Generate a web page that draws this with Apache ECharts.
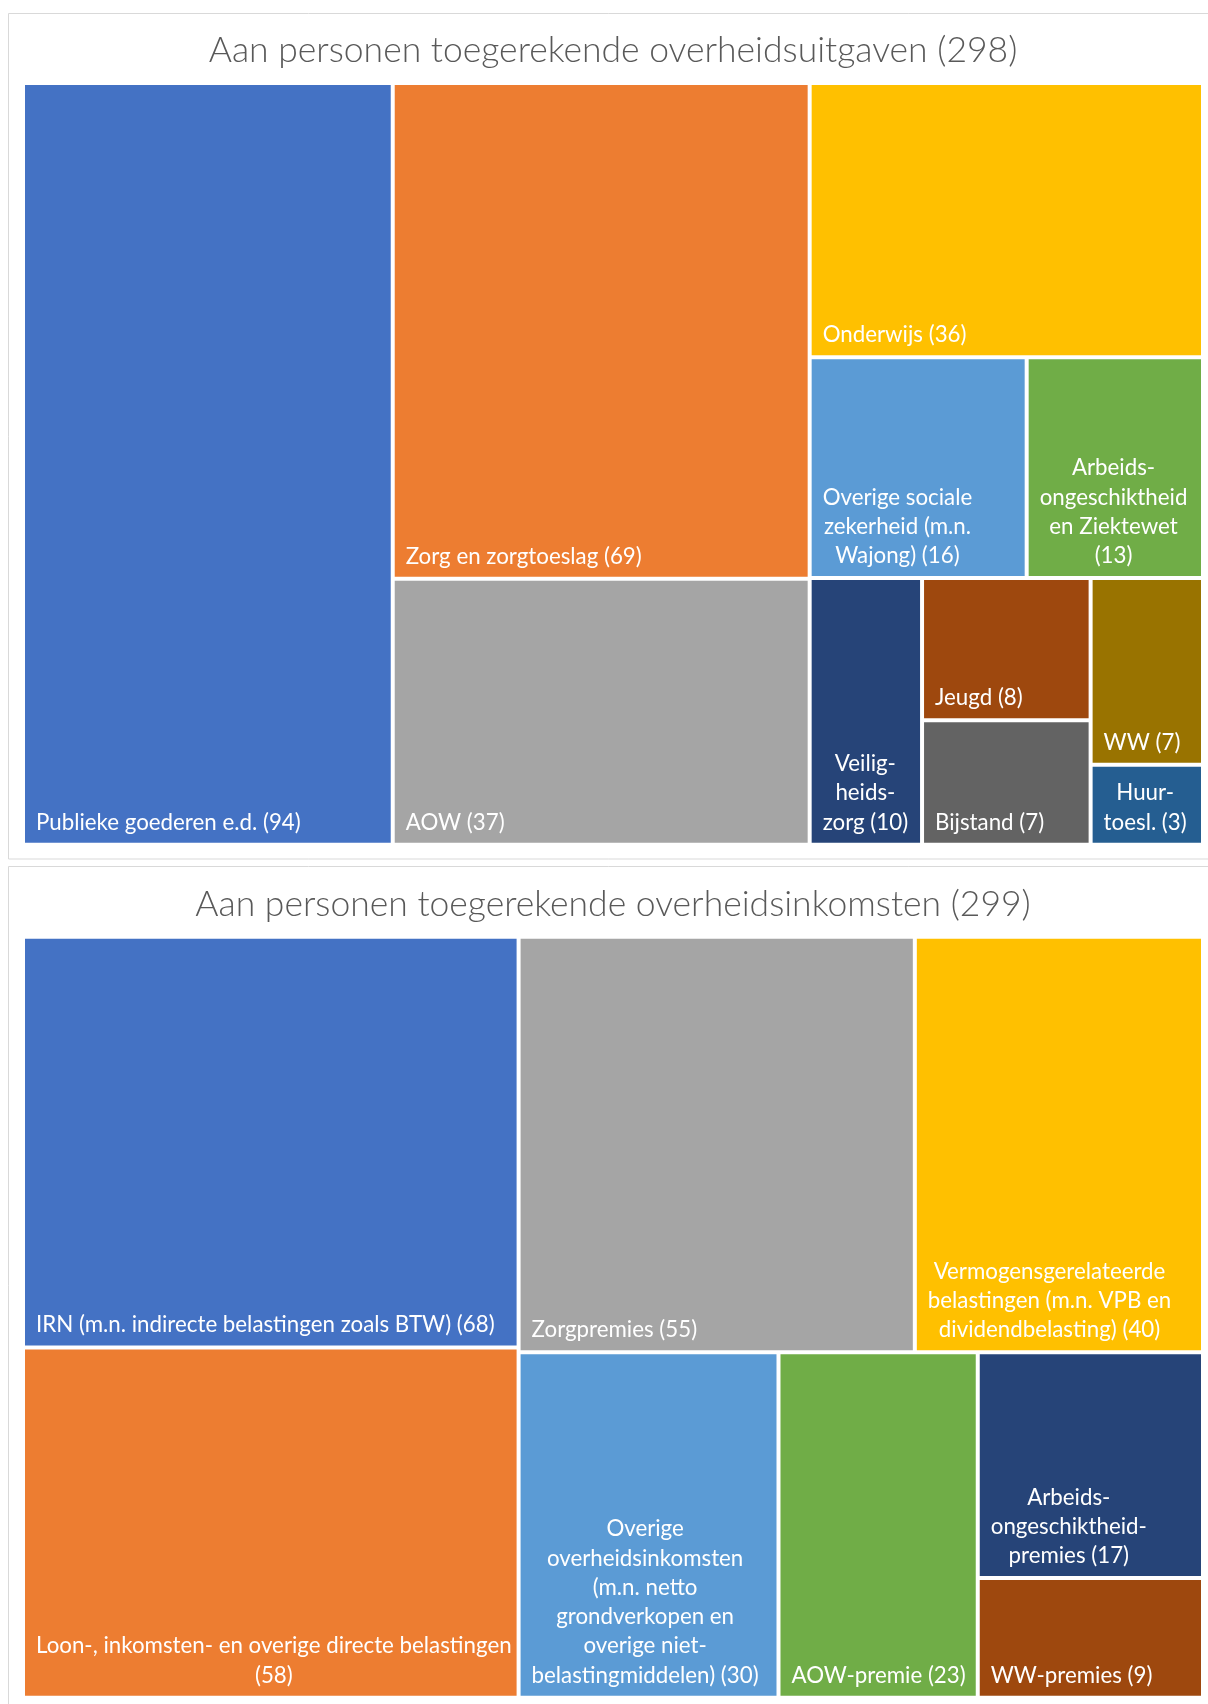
<!DOCTYPE html>
<html lang="nl">
<head>
<meta charset="utf-8">
<title>Aan personen toegerekende overheidsuitgaven en -inkomsten</title>
<script src="https://cdn.jsdelivr.net/npm/echarts@6/dist/echarts.min.js"></script>
<style>
  html, body { margin: 0; padding: 0; background: #ffffff; }
  #chart { width: 1208px; height: 1704px; }
</style>
</head>
<body>
<div id="chart"></div>
<script>
// ---- Uitgaven (mld euro) ----
const spendTitle = 'Aan personen toegerekende overheidsuitgaven';
const spendTotal = 298;
const spendNames = [
  'Publieke goederen e.d.', 'Zorg en zorgtoeslag', 'AOW', 'Onderwijs',
  'Overige sociale zekerheid (m.n. Wajong)', 'Arbeidsongeschiktheid en Ziektewet',
  'Veiligheidszorg', 'Jeugd', 'Bijstand', 'WW', 'Huurtoeslag'
];
const spendLabels = [
  'Publieke goederen e.d. ({c})',
  'Zorg en zorgtoeslag ({c})',
  'AOW ({c})',
  'Onderwijs ({c})',
  'Overige sociale\nzekerheid (m.n.\nWajong) ({c})',
  'Arbeids-\nongeschiktheid\nen Ziektewet\n({c})',
  'Veilig-\nheids-\nzorg ({c})',
  'Jeugd ({c})',
  'Bijstand ({c})',
  'WW ({c})',
  'Huur-\ntoesl. ({c})'
];
const spendValues = [94, 69, 37, 36, 16, 13, 10, 8, 7, 7, 3];
const spendColors = ['#4472C4', '#ED7D31', '#A5A5A5', '#FFC000', '#5B9BD5', '#70AD47',
                     '#264478', '#9E480E', '#636363', '#997300', '#255E91'];
// how the tiles are grouped (indices into the arrays above)
const spendBlocks = [0, [1, 2], [3, [4, 5], [6, [7, 8], [9, 10]]]];

// ---- Inkomsten (mld euro) ----
const incomeTitle = 'Aan personen toegerekende overheidsinkomsten';
const incomeTotal = 299;
const incomeNames = [
  'IRN (m.n. indirecte belastingen zoals BTW)', 'Loon-, inkomsten- en overige directe belastingen',
  'Zorgpremies', 'Vermogensgerelateerde belastingen (m.n. VPB en dividendbelasting)',
  'Overige overheidsinkomsten', 'AOW-premie', 'Arbeidsongeschiktheidpremies', 'WW-premies'
];
const incomeLabels = [
  'IRN (m.n. indirecte belastingen zoals BTW) ({c})',
  'Loon-, inkomsten- en overige directe belastingen\n({c})',
  'Zorgpremies ({c})',
  'Vermogensgerelateerde\nbelastingen (m.n. VPB en\ndividendbelasting) ({c})',
  'Overige\noverheidsinkomsten\n(m.n. netto\ngrondverkopen en\noverige niet-\nbelastingmiddelen) ({c})',
  'AOW-premie ({c})',
  'Arbeids-\nongeschiktheid-\npremies ({c})',
  'WW-premies ({c})'
];
const incomeValues = [68, 58, 55, 40, 30, 23, 17, 9];
const incomeColors = ['#4472C4', '#ED7D31', '#A5A5A5', '#FFC000', '#5B9BD5', '#70AD47', '#264478', '#9E480E'];
const incomeBlocks = [[0, 1], [[2, 3], [4, 5, [6, 7]]]];

// ---- text styling ----
const LABEL_FONT = 'Lato';
const LABEL_SIZE = 22.3;
const LABEL_LINE = 29.3;
const LABEL_PAD_X = 11;
const LABEL_PAD_Y = -5.5;
const TITLE_FONT = 'Lato';
const TITLE_SIZE = 35.5;

// Multi-line labels sit at the lower left of a tile with their lines centred
// on each other, so each label is anchored at the middle of its widest line.
const measureCtx = document.createElement('canvas').getContext('2d');
measureCtx.font = `normal normal ${LABEL_SIZE}px ${LABEL_FONT}`;
function widestLine(text) {
  return Math.max(...text.split('\n').map(l => measureCtx.measureText(l).width));
}

function buildTree(blocks, names, labels, values, colors) {
  return blocks.map(b => {
    if (Array.isArray(b)) {
      return { name: '', children: buildTree(b, names, labels, values, colors) };
    }
    const w = widestLine(labels[b].replace('{c}', values[b]));
    return {
      name: names[b],
      value: values[b],
      itemStyle: { color: colors[b], borderColor: '#ffffff', borderWidth: 2 },
      label: { formatter: labels[b], offset: [LABEL_PAD_X + w / 2, LABEL_PAD_Y] }
    };
  });
}

function treemapSeries(box, data) {
  return {
    type: 'treemap',
    left: box[0], top: box[1], width: box[2], height: box[3],
    roam: false,
    nodeClick: false,
    sort: false,
    squareRatio: 1,
    visibleMin: 0,
    breadcrumb: { show: false },
    itemStyle: { borderWidth: 0, gapWidth: 0, borderColor: '#ffffff' },
    upperLabel: { show: false },
    label: {
      show: true,
      position: 'insideBottomLeft',
      distance: 0,
      padding: 0,
      align: 'center',
      verticalAlign: 'bottom',
      color: '#ffffff',
      fontFamily: LABEL_FONT,
      fontSize: LABEL_SIZE,
      lineHeight: LABEL_LINE,
      overflow: 'none'
    },
    emphasis: { disabled: true },
    data: data
  };
}

const chart = echarts.init(document.getElementById('chart'), null, { renderer: 'canvas' });

const titleStyle = (text) => ({
  text: text,
  fill: '#595959',
  fontFamily: TITLE_FONT,
  fontSize: TITLE_SIZE,
  fontWeight: 300,
  align: 'center',
  verticalAlign: 'middle'
});

chart.setOption({
  animation: false,
  backgroundColor: '#ffffff',
  tooltip: { show: false },
  graphic: [
    { type: 'rect', silent: true, z: 0,
      shape: { x: 8.5, y: 13.5, width: 1240, height: 845.5 },
      style: { fill: '#ffffff', stroke: '#d9d9d9', lineWidth: 1 } },
    { type: 'rect', silent: true, z: 0,
      shape: { x: 8.5, y: 866.5, width: 1240, height: 900 },
      style: { fill: '#ffffff', stroke: '#d9d9d9', lineWidth: 1 } },
    { type: 'text', silent: true, z: 1, x: 613, y: 51,
      style: titleStyle(`${spendTitle} (${spendTotal})`) },
    { type: 'text', silent: true, z: 1, x: 613, y: 905,
      style: titleStyle(`${incomeTitle} (${incomeTotal})`) }
  ],
  series: [
    treemapSeries([23, 83, 1180, 761.7], buildTree(spendBlocks, spendNames, spendLabels, spendValues, spendColors)),
    treemapSeries([23, 936.7, 1180, 761], buildTree(incomeBlocks, incomeNames, incomeLabels, incomeValues, incomeColors))
  ]
});
</script>
</body>
</html>
